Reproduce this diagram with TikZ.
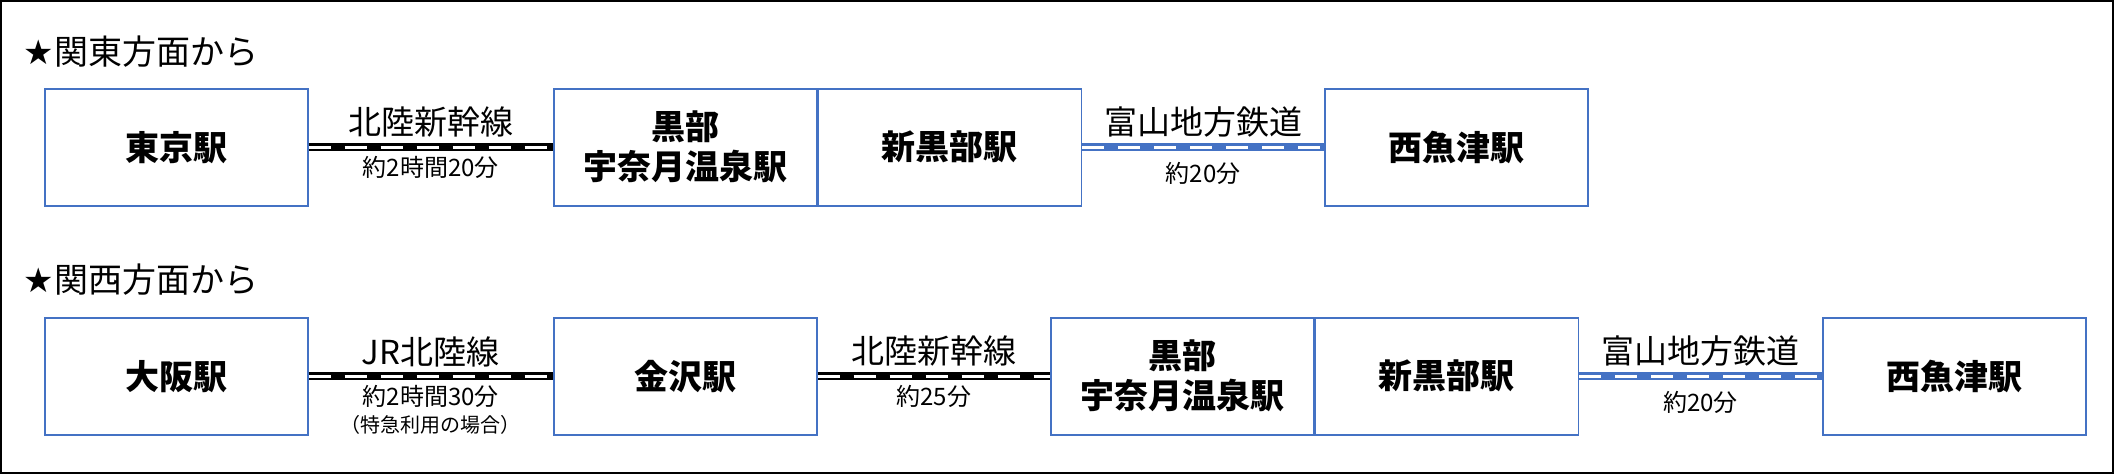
\documentclass[tikz,border=0pt]{standalone}
\usepackage{fontspec}
\setmainfont{Noto Sans CJK JP}
\usepackage{tikz}
\usetikzlibrary{positioning,calc}
\definecolor{rail}{HTML}{4472C4}
\tikzset{
  stn/.style={draw=rail, line width=1.5pt, minimum width=263pt, minimum height=117pt,
    inner sep=0pt, align=center, font=\fontsize{34}{40}\selectfont\bfseries},
  jr/.style={line width=8pt, black},
  jrdash/.style={line width=3pt, white, dash pattern=on 22pt off 14pt},
  loc/.style={line width=8pt, rail},
  locdash/.style={line width=3pt, white, dash pattern=on 22pt off 14pt},
  lname/.style={font=\fontsize{33}{38}\selectfont, anchor=south},
  ltime/.style={font=\fontsize{24}{28}\selectfont, anchor=north},
  head/.style={font=\fontsize{34}{40}\selectfont, anchor=west}
}
\begin{document}
\begin{tikzpicture}[x=1pt,y=-1pt]
\draw[line width=2pt] (1,1) rectangle (2113,473);
\useasboundingbox (0,0) rectangle (2114,474);

% from Kanto
\node[head] (h1) at (20,52) {\fontspec{DejaVu Sans}★\fontspec{Noto Sans CJK JP}関東方面から};
\node[stn, anchor=north west] (tokyo) at (44,88) {東京駅};
\node[stn, anchor=north west] (una1) at (553,88) {黒部\\宇奈月温泉駅};
\node[stn, right=0pt of una1] (shin1) {新黒部駅};
\node[stn, anchor=north west] (nishi1) at (1324,88) {西魚津駅};

\draw[jr] (tokyo.east) -- (una1.west);
\draw[jrdash] (tokyo.east) -- (una1.west);
\node[lname] at ($(tokyo.east)!0.5!(una1.west)+(0,-6)$) {北陸新幹線};
\node[ltime] at ($(tokyo.east)!0.5!(una1.west)+(0,6)$) {約2時間20分};

\draw[loc] (shin1.east) -- (nishi1.west);
\draw[locdash] (shin1.east) -- (nishi1.west);
\node[lname] at ($(shin1.east)!0.5!(nishi1.west)+(0,-6)$) {富山地方鉄道};
\node[ltime] at ($(shin1.east)!0.5!(nishi1.west)+(0,12)$) {約20分};

% from Kansai
\node[head] (h2) at (20,280) {\fontspec{DejaVu Sans}★\fontspec{Noto Sans CJK JP}関西方面から};
\node[stn, anchor=north west] (osaka) at (44,317) {大阪駅};
\node[stn, anchor=north west] (kana) at (553,317) {金沢駅};
\node[stn, anchor=north west] (una2) at (1050,317) {黒部\\宇奈月温泉駅};
\node[stn, right=0pt of una2] (shin2) {新黒部駅};
\node[stn, anchor=north west] (nishi2) at (1822,317) {西魚津駅};

\draw[jr] (osaka.east) -- (kana.west);
\draw[jrdash] (osaka.east) -- (kana.west);
\node[lname] at ($(osaka.east)!0.5!(kana.west)+(0,-6)$) {JR北陸線};
\node[ltime] (t2) at ($(osaka.east)!0.5!(kana.west)+(0,6)$) {約2時間30分};
\node[ltime, font=\fontsize{20}{24}\selectfont, below=0pt of t2] {（特急利用の場合）};

\draw[jr] (kana.east) -- (una2.west);
\draw[jrdash] (kana.east) -- (una2.west);
\node[lname] at ($(kana.east)!0.5!(una2.west)+(0,-6)$) {北陸新幹線};
\node[ltime] at ($(kana.east)!0.5!(una2.west)+(0,6)$) {約25分};

\draw[loc] (shin2.east) -- (nishi2.west);
\draw[locdash] (shin2.east) -- (nishi2.west);
\node[lname] at ($(shin2.east)!0.5!(nishi2.west)+(0,-6)$) {富山地方鉄道};
\node[ltime] at ($(shin2.east)!0.5!(nishi2.west)+(0,12)$) {約20分};
\end{tikzpicture}
\end{document}
